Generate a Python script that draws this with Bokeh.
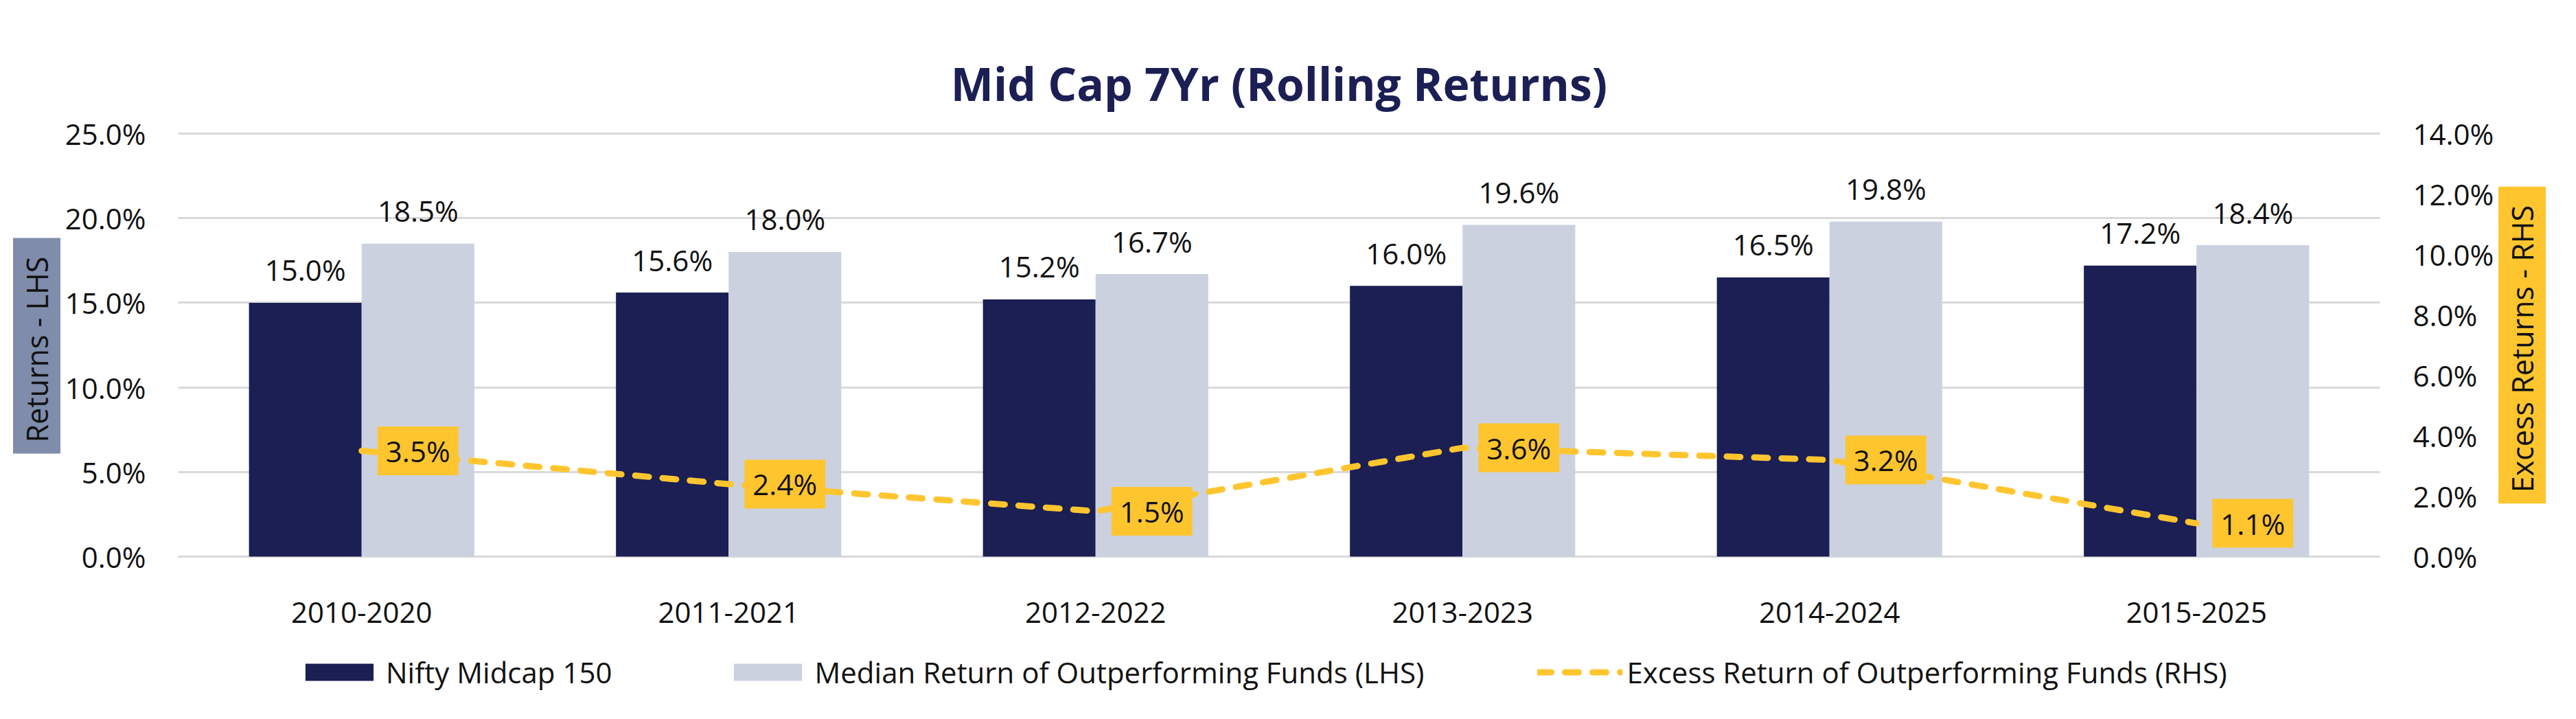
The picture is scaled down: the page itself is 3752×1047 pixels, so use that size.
import math
from bokeh.plotting import figure
from bokeh.models import (ColumnDataSource, FactorRange, Range1d, LinearAxis, Label, Grid,
                          Legend, LegendItem, FixedTicker)
from bokeh.transform import dodge
from bokeh.core.properties import value
from bokeh.embed import file_html
from bokeh.resources import INLINE

# ---- data ----
periods = ["2010-2020", "2011-2021", "2012-2022", "2013-2023", "2014-2024", "2015-2025"]
nifty_midcap_150 = [15.0, 15.6, 15.2, 16.0, 16.5, 17.2]
median_outperforming = [18.5, 18.0, 16.7, 19.6, 19.8, 18.4]
excess_return = [3.5, 2.4, 1.5, 3.6, 3.2, 1.1]
left_ticks = [0, 5, 10, 15, 20, 25]
right_ticks = [0, 2, 4, 6, 8, 10, 12, 14]

NAVY = "#1B1F53"
GRAY = "#CBD1DF"
YEL = "#FFC52F"
SLATE = "#7F8CAB"
TXT = "#111111"
FONT = "Open Sans"
FS = "42px"

src = ColumnDataSource(dict(
    period=periods,
    nifty=nifty_midcap_150,
    median=median_outperforming,
    excess=excess_return,
    nifty_lbl=[f"{v:.1f}%" for v in nifty_midcap_150],
    median_lbl=[f"{v:.1f}%" for v in median_outperforming],
    excess_lbl=[f"{v:.1f}%" for v in excess_return],
))

# ---- layout geometry (pixels) ----
W, H = 3736, 1031
PAD_L = 259            # space left of the first category
CAT_W = 534.5          # pixel width of one category
Y0 = 810               # pixel row of the 0 line
Y_TOP = 194            # pixel row of the top (25% / 14%) line
FRAME_W = W - 11
px_per_l = (Y0 - Y_TOP) / 25.0
px_per_r = (Y0 - Y_TOP) / 14.0

x_range = FactorRange(*periods, range_padding=PAD_L / CAT_W, range_padding_units="absolute")
y_left = Range1d(-(H - Y0) / px_per_l, 25 + Y_TOP / px_per_l)
y_right = Range1d(-(H - Y0) / px_per_r, 14 + Y_TOP / px_per_r)

p = figure(x_range=x_range, y_range=y_left, width=W, height=H,
           output_backend="svg", toolbar_location=None)
p.min_border = 0
p.min_border_right = W - FRAME_W
p.extra_y_ranges = {"right": y_right}
p.outline_line_color = None
p.background_fill_color = "white"
p.border_fill_color = "white"
p.xgrid.grid_line_color = None

grid_props = Grid.properties()
if "cross_bounds" in grid_props:
    p.ygrid.ticker = FixedTicker(ticks=left_ticks)
    p.ygrid.grid_line_color = "#D9D9D9"
    p.ygrid.grid_line_width = 3
    p.ygrid.cross_bounds = (0, len(periods))
else:
    p.ygrid.grid_line_color = None
    p.segment(x0=[0] * len(left_ticks), x1=[len(periods)] * len(left_ticks),
              y0=left_ticks, y1=left_ticks, line_color="#D9D9D9", line_width=3, level="underlay")

BW = 0.307
OFF = 0.1535
r1 = p.vbar(x=dodge("period", -OFF, range=p.x_range), top="nifty", width=BW, source=src,
            fill_color=NAVY, line_color=None)
r2 = p.vbar(x=dodge("period", OFF, range=p.x_range), top="median", width=BW, source=src,
            fill_color=GRAY, line_color=None)

p.text(x=dodge("period", -OFF, range=p.x_range), y="nifty", text="nifty_lbl", source=src,
       text_align="center", text_baseline="alphabetic", y_offset=-48,
       text_font=value(FONT), text_font_size=FS, text_color=TXT)
p.text(x=dodge("period", OFF, range=p.x_range), y="median", text="median_lbl", source=src,
       text_align="center", text_baseline="alphabetic", y_offset=-48,
       text_font=value(FONT), text_font_size=FS, text_color=TXT)

r3 = p.line(x="period", y="excess", source=src, y_range_name="right",
            line_color=YEL, line_width=9, line_dash="20 20", line_cap="round")

p.text(x="period", y="excess", text="excess_lbl", source=src, y_range_name="right",
       x_offset=82, text_align="center", text_baseline="middle",
       text_font=value(FONT), text_font_size=FS, text_color=TXT,
       background_fill_color=YEL, padding=(12, 7))

# ---- axes (placed at fixed locations inside the frame) ----
def style_axis(ax, standoff):
    ax.axis_line_color = None
    ax.major_tick_line_color = None
    ax.minor_tick_line_color = None
    ax.major_tick_out = 0
    ax.major_tick_in = 0
    ax.minor_tick_out = 0
    ax.minor_tick_in = 0
    ax.major_label_standoff = standoff
    ax.major_label_text_font = FONT
    ax.major_label_text_font_size = FS
    ax.major_label_text_color = TXT

p.yaxis.ticker = FixedTicker(ticks=left_ticks)
p.yaxis.major_label_overrides = {t: f"{t:.1f}%" for t in left_ticks}
style_axis(p.yaxis[0], 47)
p.yaxis[0].fixed_location = 0

rax = LinearAxis(y_range_name="right", ticker=FixedTicker(ticks=right_ticks))
rax.major_label_overrides = {t: f"{t:.1f}%" for t in right_ticks}
style_axis(rax, 48)
rax.fixed_location = len(periods)
p.add_layout(rax, "right")

style_axis(p.xaxis[0], 66)
p.xaxis[0].fixed_location = 0

# ---- title and axis-title boxes ----
cx = PAD_L + 3 * CAT_W
p.add_layout(Label(x=cx, y=H - 120, x_units="screen", y_units="screen",
                   text="Mid Cap 7Yr (Rolling Returns)", text_align="center",
                   text_baseline="alphabetic", text_font=FONT, text_font_size="66px",
                   text_font_style="bold", text_color=NAVY))

p.add_layout(Label(x=53, y=H - 503, x_units="screen", y_units="screen", angle=math.pi / 2,
                   text="Returns  - LHS", text_align="center", text_baseline="middle",
                   text_font=FONT, text_font_size="43px", text_color=TXT,
                   background_fill_color=SLATE, padding=(16, 5)))
p.add_layout(Label(x=3673, y=H - 502, x_units="screen", y_units="screen", angle=math.pi / 2,
                   text="Excess Returns  - RHS", text_align="center", text_baseline="middle",
                   text_font=FONT, text_font_size="43px", text_color=TXT,
                   background_fill_color=YEL, padding=(16, 5)))

legend = Legend(items=[
    LegendItem(label="Nifty Midcap 150", renderers=[r1]),
    LegendItem(label="Median Return of Outperforming Funds (LHS)", renderers=[r2]),
    LegendItem(label="Excess Return of Outperforming Funds (RHS)", renderers=[r3]),
], orientation="horizontal", location=(432, H - 1007), glyph_width=124, glyph_height=31,
    label_standoff=6, spacing=165, padding=0, margin=0, border_line_color=None,
    background_fill_alpha=0, label_text_font=FONT, label_text_font_size=FS,
    label_text_color=TXT, label_height=31)
p.add_layout(legend)

open("out.html", "w").write(file_html(p, INLINE))
